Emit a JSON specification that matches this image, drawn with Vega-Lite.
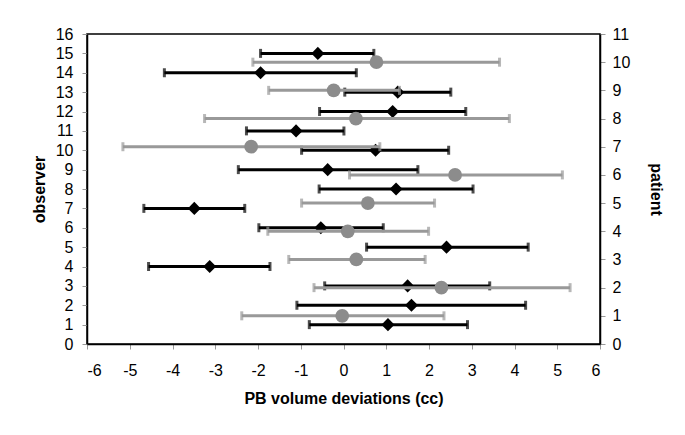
{
  "$schema": "https://vega.github.io/schema/vega-lite/v6.json",
  "autosize": {"type": "none"},
  "width": 513,
  "height": 310,
  "padding": {"left": 87, "top": 34, "right": 85, "bottom": 91},
  "background": "white",
  "config": {
    "font": "Liberation Sans",
    "view": {"stroke": "black", "strokeWidth": 1.5},
    "axis": {
      "grid": false,
      "domainColor": "black",
      "domainWidth": 1.5,
      "tickColor": "#999999",
      "tickSize": 5,
      "labelFont": "Liberation Sans",
      "labelFontSize": 16,
      "labelColor": "black",
      "titleFont": "Liberation Sans",
      "titleFontSize": 16,
      "titleFontWeight": "bold",
      "titleColor": "black"
    }
  },
  "datasets": {
    "obs": [
      {"observer": 1, "mean": 1.04, "lo": -0.80, "hi": 2.90},
      {"observer": 2, "mean": 1.59, "lo": -1.09, "hi": 4.26},
      {"observer": 3, "mean": 1.50, "lo": -0.44, "hi": 3.42},
      {"observer": 4, "mean": -3.13, "lo": -4.56, "hi": -1.72},
      {"observer": 5, "mean": 2.41, "lo": 0.54, "hi": 4.32},
      {"observer": 6, "mean": -0.53, "lo": -1.98, "hi": 0.93},
      {"observer": 7, "mean": -3.49, "lo": -4.67, "hi": -2.31},
      {"observer": 8, "mean": 1.23, "lo": -0.57, "hi": 3.03},
      {"observer": 9, "mean": -0.37, "lo": -2.46, "hi": 1.74},
      {"observer": 10, "mean": 0.75, "lo": -0.98, "hi": 2.46},
      {"observer": 11, "mean": -1.11, "lo": -2.27, "hi": 0.01},
      {"observer": 12, "mean": 1.15, "lo": -0.56, "hi": 2.86},
      {"observer": 13, "mean": 1.27, "lo": 0.03, "hi": 2.51},
      {"observer": 14, "mean": -1.94, "lo": -4.19, "hi": 0.30},
      {"observer": 15, "mean": -0.60, "lo": -1.94, "hi": 0.71}
    ],
    "pat": [
      {"patient": 1, "mean": -0.03, "lo": -2.38, "hi": 2.35},
      {"patient": 2, "mean": 2.29, "lo": -0.69, "hi": 5.30},
      {"patient": 3, "mean": 0.30, "lo": -1.28, "hi": 1.91},
      {"patient": 4, "mean": 0.10, "lo": -1.77, "hi": 1.99},
      {"patient": 5, "mean": 0.57, "lo": -0.98, "hi": 2.13},
      {"patient": 6, "mean": 2.61, "lo": 0.14, "hi": 5.12},
      {"patient": 7, "mean": -2.16, "lo": -5.16, "hi": 0.85},
      {"patient": 8, "mean": 0.29, "lo": -3.25, "hi": 3.88},
      {"patient": 9, "mean": -0.23, "lo": -1.75, "hi": 1.31},
      {"patient": 10, "mean": 0.77, "lo": -2.12, "hi": 3.65}
    ]
  },
  "layer": [
    {
      "data": {"name": "obs"},
      "encoding": {
        "y": {
          "field": "observer", "type": "quantitative",
          "scale": {"domain": [0, 16], "nice": false},
          "axis": {"orient": "left", "values": [0,1,2,3,4,5,6,7,8,9,10,11,12,13,14,15,16], "title": "observer", "labelPadding": 9, "titlePadding": 8}
        }
      },
      "layer": [
        {
          "mark": {"type": "rule", "color": "black", "strokeWidth": 3},
          "encoding": {
            "x": {"field": "lo", "type": "quantitative", "scale": {"domain": [-6, 6], "nice": false},
                  "axis": {"values": [-6,-5,-4,-3,-2,-1,0,1,2,3,4,5,6], "labelExpr": "datum.value + ''", "title": "PB volume deviations (cc)", "labelPadding": 13, "titlePadding": 12}},
            "x2": {"field": "hi"}
          }
        },
        {
          "mark": {"type": "tick", "orient": "vertical", "color": "black", "size": 9, "thickness": 3},
          "encoding": {"x": {"field": "lo", "type": "quantitative"}}
        },
        {
          "mark": {"type": "tick", "orient": "vertical", "color": "black", "size": 9, "thickness": 3},
          "encoding": {"x": {"field": "hi", "type": "quantitative"}}
        },
        {
          "mark": {"type": "point", "shape": "diamond", "filled": true, "color": "black", "opacity": 1, "size": 170},
          "encoding": {"x": {"field": "mean", "type": "quantitative"}}
        }
      ]
    },
    {
      "data": {"name": "pat"},
      "encoding": {
        "y": {
          "field": "patient", "type": "quantitative",
          "scale": {"domain": [0, 11], "nice": false},
          "axis": {"orient": "right", "values": [0,1,2,3,4,5,6,7,8,9,10,11], "title": "patient", "labelPadding": 7, "titlePadding": 18}
        }
      },
      "layer": [
        {
          "mark": {"type": "rule", "color": "#999999", "strokeWidth": 3},
          "encoding": {
            "x": {"field": "lo", "type": "quantitative"},
            "x2": {"field": "hi"}
          }
        },
        {
          "mark": {"type": "tick", "orient": "vertical", "color": "#999999", "size": 9, "thickness": 3},
          "encoding": {"x": {"field": "lo", "type": "quantitative"}}
        },
        {
          "mark": {"type": "tick", "orient": "vertical", "color": "#999999", "size": 9, "thickness": 3},
          "encoding": {"x": {"field": "hi", "type": "quantitative"}}
        },
        {
          "mark": {"type": "point", "shape": "circle", "filled": true, "color": "#8c8c8c", "opacity": 1, "size": 190},
          "encoding": {"x": {"field": "mean", "type": "quantitative"}}
        }
      ]
    }
  ],
  "resolve": {"scale": {"y": "independent"}, "axis": {"y": "independent"}}
}
